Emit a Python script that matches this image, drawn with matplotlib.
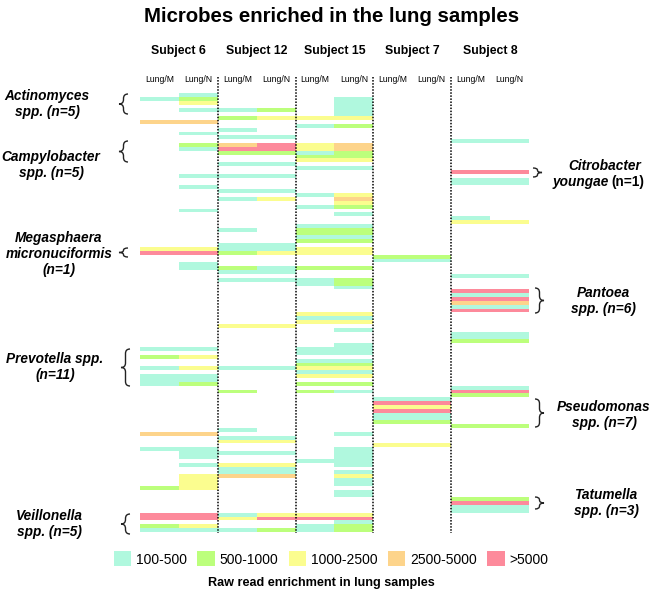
import numpy as np
import matplotlib
matplotlib.use("Agg")
import matplotlib.pyplot as plt
from matplotlib.colors import ListedColormap, BoundaryNorm
from matplotlib.patches import Patch, PathPatch
from matplotlib.path import Path

plt.rcParams['font.family'] = ['Liberation Sans', 'DejaVu Sans']

# enrichment levels: 0 none, 1 100-500, 2 500-1000, 3 1000-2500, 4 2500-5000, 5 >5000
level_labels = ['100-500', '500-1000', '1000-2500', '2500-5000', '>5000']
level_colors = ['#b0f8de', '#bcff7c', '#fbfd8f', '#fdd48b', '#fd8a9b']
subjects = ['Subject 6', 'Subject 12', 'Subject 15', 'Subject 7', 'Subject 8']
samples = ['Lung/M', 'Lung/N']
n_rows = 114

# row index -> level, one dict per sample column
s6_m = {1: 1, 7: 4, 40: 3, 41: 5, 66: 1, 68: 2, 71: 1, 73: 1, 74: 1, 75: 1, 88: 4,
        92: 1, 102: 2, 109: 5, 110: 5, 112: 2, 113: 1}
s6_n = {0: 1, 1: 2, 2: 3, 4: 1, 7: 4, 10: 1, 13: 2, 14: 1, 21: 1, 24: 1, 30: 1, 40: 3,
        41: 5, 44: 1, 45: 1, 66: 1, 68: 3, 71: 3, 73: 1, 74: 1, 75: 2, 88: 4, 92: 1,
        93: 1, 94: 1, 96: 1, 99: 3, 100: 3, 101: 3, 102: 3, 109: 5, 110: 5, 112: 3, 113: 1}
s12_m = {4: 1, 6: 2, 9: 1, 11: 1, 13: 4, 14: 5, 15: 2, 18: 1, 21: 1, 25: 1, 27: 1, 35: 1,
         39: 1, 40: 1, 41: 2, 45: 2, 46: 1, 48: 1, 60: 3, 71: 1, 77: 2, 87: 1, 89: 1,
         90: 3, 93: 1, 96: 3, 97: 1, 98: 1, 99: 4, 109: 1, 110: 3, 113: 1}
s12_n = {4: 2, 6: 3, 11: 1, 13: 5, 14: 5, 15: 2, 18: 1, 21: 1, 25: 1, 27: 3, 39: 1, 40: 1,
         41: 3, 45: 1, 46: 1, 48: 1, 60: 3, 71: 1, 89: 1, 90: 3, 93: 1, 96: 3, 97: 1,
         98: 1, 99: 4, 109: 3, 110: 5, 113: 2}
s15_m = {6: 3, 8: 1, 13: 3, 14: 3, 15: 1, 16: 2, 17: 3, 19: 1, 26: 1, 29: 1, 34: 1, 35: 2,
         36: 2, 37: 1, 38: 2, 40: 3, 41: 3, 45: 2, 48: 1, 49: 1, 57: 3, 58: 1, 59: 3,
         66: 1, 67: 1, 69: 1, 70: 2, 71: 3, 72: 1, 73: 3, 75: 2, 77: 2, 95: 1, 109: 3,
         110: 5, 112: 1, 113: 1}
s15_n = {1: 1, 2: 1, 3: 1, 4: 1, 5: 1, 6: 3, 8: 2, 13: 4, 14: 4, 15: 2, 16: 2, 17: 3,
         19: 1, 26: 3, 27: 4, 28: 3, 29: 2, 31: 1, 34: 1, 35: 2, 36: 2, 37: 1, 38: 2,
         40: 3, 41: 3, 45: 2, 48: 2, 49: 2, 50: 1, 57: 3, 58: 1, 59: 3, 61: 1, 65: 1,
         66: 1, 67: 1, 69: 1, 70: 2, 71: 3, 72: 1, 73: 3, 75: 2, 77: 1, 88: 1, 92: 1,
         93: 1, 94: 1, 95: 1, 96: 1, 98: 1, 99: 3, 100: 1, 101: 1, 103: 1, 104: 1,
         109: 3, 110: 5, 111: 1, 112: 2, 113: 2}
s7_m = {42: 2, 43: 1, 79: 1, 80: 5, 81: 3, 82: 5, 83: 1, 84: 1, 85: 2, 91: 3}
s7_n = {42: 2, 43: 1, 79: 1, 80: 5, 81: 3, 82: 5, 83: 1, 84: 1, 85: 2, 91: 3}
s8_m = {12: 1, 20: 5, 22: 1, 23: 1, 32: 1, 33: 3, 47: 1, 51: 5, 52: 1, 53: 5, 54: 4,
        55: 1, 56: 5, 62: 1, 63: 1, 64: 2, 76: 1, 77: 5, 78: 2, 86: 2, 105: 2, 106: 5,
        107: 1, 108: 1}
s8_n = {12: 1, 20: 5, 22: 1, 23: 1, 33: 3, 47: 1, 51: 5, 52: 1, 53: 5, 54: 4, 55: 1,
        56: 5, 62: 1, 63: 1, 64: 2, 76: 1, 77: 5, 78: 2, 86: 2, 105: 2, 106: 5, 107: 1,
        108: 1}
columns = [s6_m, s6_n, s12_m, s12_n, s15_m, s15_n, s7_m, s7_n, s8_m, s8_n]

mat = np.zeros((n_rows, len(columns)))
for j, col in enumerate(columns):
    for r, v in col.items():
        mat[r, j] = v

W, H = 659, 592
fig = plt.figure(figsize=(W / 100, H / 100), dpi=100)

def fx(x):
    return x / W

def fy(y):
    return 1 - y / H

# heatmap axes
top, bot, left, right = 93.3, 532.3, 140, 529
ax = fig.add_axes([fx(left), fy(bot), fx(right) - fx(left), fy(top) - fy(bot)])
cmap = ListedColormap(['white'] + level_colors)
norm = BoundaryNorm(np.arange(-0.5, 6.5, 1), cmap.N)
ax.imshow(mat, cmap=cmap, norm=norm, aspect='auto', interpolation='nearest',
          extent=(0, 10, n_rows, 0))
ax.set_xlim(0, 10)
ax.set_ylim(n_rows, 0)
ax.axis('off')
for x in [2, 4, 6, 8]:
    ax.plot([x, x], [-4.2, n_rows + 0.3], color='black', lw=1.1, ls=(0, (1, 1)),
            clip_on=False)

# overlay in pixel coords for text and braces
ov = fig.add_axes([0, 0, 1, 1], facecolor='none')
ov.set_xlim(0, W)
ov.set_ylim(H, 0)
ov.axis('off')

ov.text(332, 16, 'Microbes enriched in the lung samples', ha='center', va='center',
        fontsize=14.7, weight='bold')
col_w = (right - left) / 10
for i, s in enumerate(subjects):
    ov.text(left + col_w * (2 * i + 1), 51, s, ha='center', va='center', fontsize=8.8,
            weight='bold')
    for k, smp in enumerate(samples):
        ov.text(left + col_w * (2 * i + k + 0.5), 79, smp, ha='center', va='center',
                fontsize=6.2)


def brace(x, y0, y1, w=9, side='left'):
    c = min(w / 2, (y1 - y0) / 4)
    m = (y0 + y1) / 2
    if side == 'left':
        e, mid, tip = x + w, x + w / 2, x
    else:
        e, mid, tip = x, x + w / 2, x + w
    verts = [(e, y0), (mid, y0), (mid, y0 + c), (mid, m - c), (mid, m), (tip, m),
             (mid, m), (mid, m + c), (mid, y1 - c), (mid, y1), (e, y1)]
    codes = [Path.MOVETO, Path.CURVE3, Path.CURVE3, Path.LINETO, Path.CURVE3, Path.CURVE3,
             Path.CURVE3, Path.CURVE3, Path.LINETO, Path.CURVE3, Path.CURVE3]
    ov.add_patch(PathPatch(Path(verts, codes), fill=False, lw=1.0, color='#222222'))


lab = dict(ha='center', va='center', fontsize=9.8, weight='bold', style='italic',
           linespacing=1.2)
ov.text(47, 104, 'Actinomyces\nspp. (n=5)', **lab)
ov.text(51, 165, 'Campylobacter\nspp. (n=5)', **lab)
ov.text(59, 254, 'Megasphaera\nmicronuciformis\n(n=1)', **lab)
ov.text(55, 367, 'Prevotella spp.\n(n=11)', **lab)
ov.text(49, 524, 'Veillonella\nspp. (n=5)', **lab)
ov.text(605, 166, 'Citrobacter', **lab)
ov.text(609, 182, 'youngae', ha='right', va='center', fontsize=9.8, weight='bold',
        style='italic')
ov.text(611, 182, '(n=1)', ha='left', va='center', fontsize=9.8, weight='bold')
ov.text(603, 301, 'Pantoea\nspp. (n=6)', **lab)
ov.text(604, 415, 'Pseudomonas\nspp. (n=7)', **lab)
ov.text(606, 503, 'Tatumella\nspp. (n=3)', **lab)

brace(119, 94, 114)
brace(119, 141, 162)
brace(119, 248, 257)
brace(121, 349, 386)
brace(121, 514, 534)
brace(533, 168, 177, side='right')
brace(535, 288, 313, side='right')
brace(535, 399, 427, side='right')
brace(535, 497, 509, side='right')

handles = [Patch(facecolor=c, edgecolor='none') for c in level_colors]
fig.legend(handles, level_labels, loc='center', bbox_to_anchor=(fx(331), fy(559)),
           ncol=5, frameon=False, fontsize=10, handlelength=1.25, handleheight=1.25,
           handletextpad=0.35, columnspacing=0.75)
ov.text(321, 583, 'Raw read enrichment in lung samples', ha='center', va='center',
        fontsize=9.1, weight='bold')

fig.savefig('out.png', dpi=100)
